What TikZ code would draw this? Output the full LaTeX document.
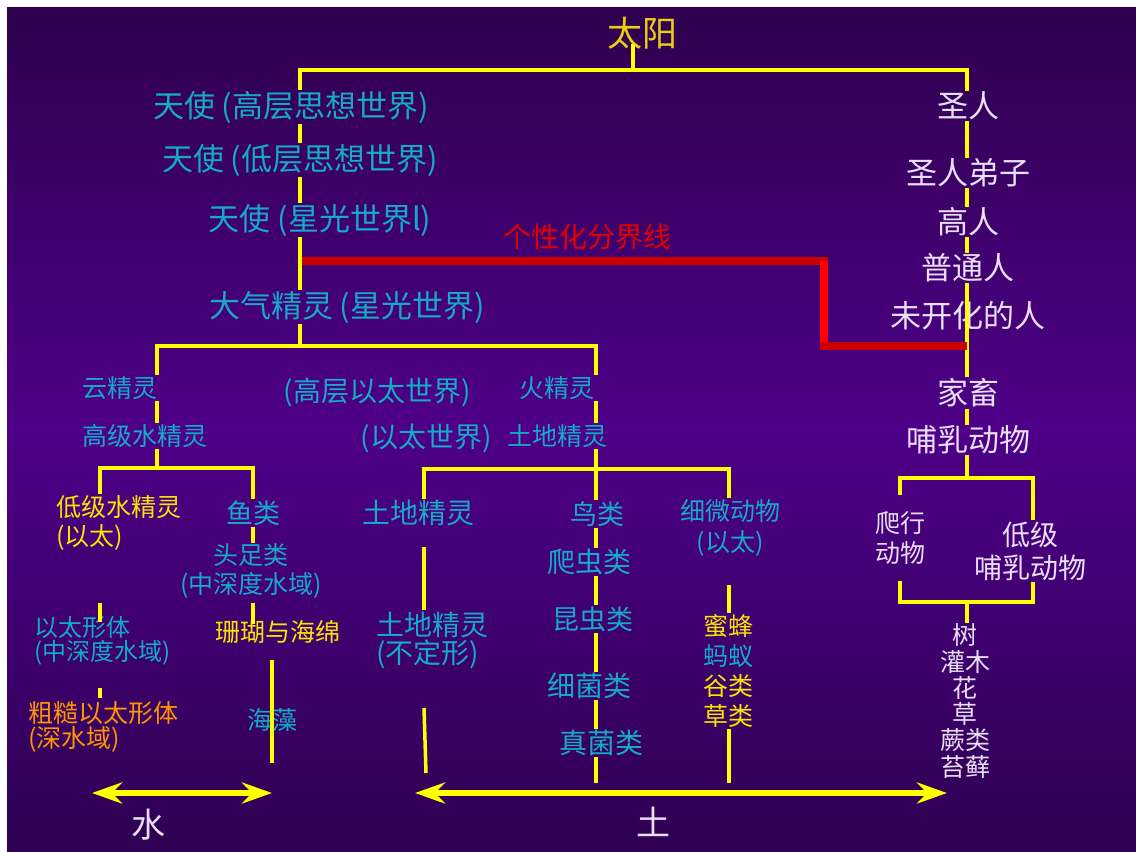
\documentclass[tikz,border=0pt]{standalone}
\usepackage{fontspec}
\newfontfamily\cjk{Noto Sans CJK SC}
\usetikzlibrary{positioning,arrows.meta,calc}
\definecolor{bgtop}{RGB}{46,0,78}
\definecolor{bgmid}{RGB}{78,0,136}
\definecolor{bgbot}{RGB}{46,0,82}
\definecolor{cyantxt}{RGB}{20,170,200}
\definecolor{lilac}{RGB}{232,222,245}
\definecolor{sungold}{RGB}{232,206,20}
\definecolor{lineyel}{RGB}{255,255,0}
\definecolor{txtyel}{RGB}{250,228,0}
\definecolor{orangetxt}{RGB}{255,150,0}
\definecolor{redline}{RGB}{204,0,0}
\definecolor{redbright}{RGB}{255,0,0}
\definecolor{redtxt}{RGB}{225,0,0}
\tikzset{
    angel/.style={font=\cjk\fontsize{31}{33}\selectfont, text=cyantxt, inner sep=1pt},
    human/.style={font=\cjk\fontsize{31}{33}\selectfont, text=lilac, inner sep=1pt, align=center},
    spirit/.style={font=\cjk\fontsize{25}{26}\selectfont, text=cyantxt, inner sep=1pt, align=center},
    creature/.style={font=\cjk\fontsize{28}{28}\selectfont, text=cyantxt, inner sep=1pt, align=center},
    realm/.style={font=\cjk\fontsize{34}{34}\selectfont, text=lilac, inner sep=1pt},
    yline/.style={draw=lineyel, line width=3.5pt},
    redbar/.style={draw=redline, line width=8pt},
    ground/.style={draw=lineyel, line width=5.5pt, {Stealth[length=30pt, width=21pt, inset=10pt]}-{Stealth[length=30pt, width=21pt, inset=10pt]}}
}
\begin{document}
\begin{tikzpicture}[x=1pt, y=-1pt]
    \useasboundingbox (0,0) rectangle (1136,852);
    \fill[white] (0,0) rectangle (1136,852);
    \shade[top color=bgtop, bottom color=bgbot, middle color=bgmid] (7,7) rectangle (1136,852);

    % upper part
    \node[font=\cjk\fontsize{35}{35}\selectfont, text=sungold, inner sep=1pt] (sun) at (642,33) {太阳};
    \node[angel] (angelhi) at (291,107) {天使 (高层思想世界)};
    \node[angel] (angello) at (300,160) {天使 (低层思想世界)};
    \node[angel] (angelastral) at (320,220) {天使 (星光世界l)};
    \node[angel] (air) at (347,307) {大气精灵 (星光世界)};
    \node[font=\cjk\fontsize{28}{28}\selectfont, text=redtxt] (divide) at (587,237) {个性化分界线};

    \node[human] (saint) at (968,106) {圣人};
    \node[human, below of=saint, node distance=67pt] (disciple) {圣人弟子};
    \node[human, below of=disciple, node distance=49pt] (adept) {高人};
    \node[human, below of=adept, node distance=46pt] (common) {普通人};
    \node[human, below of=common, node distance=48pt] (primitive) {未开化的人};
    \node[human, below of=primitive, node distance=77pt] (cattle) {家畜};
    \node[human, below of=cattle, node distance=47pt] (mammal) {哺乳动物};
    \node[human, font=\cjk\fontsize{25}{30}\selectfont, inner ysep=16pt] (reptile) at (900,538) {爬行\\动物};
    \node[human, font=\cjk\fontsize{28}{33}\selectfont] (lowmammal) at (1030,551) {低级\\哺乳动物};
    \node[human, font=\cjk\fontsize{25}{26.3}\selectfont] (plants) at (965,701) {树\\灌木\\花\\草\\蕨类\\苔藓};

    % middle part
    \node[spirit] (cloud) at (120,388) {云精灵};
    \node[spirit] (hiwater) at (145,436) {高级水精灵};
    \node[creature] (etherhi) at (377,392) {(高层以太世界)};
    \node[creature] (ether) at (426,438) {(以太世界)};
    \node[spirit] (fire) at (557,388) {火精灵};
    \node[spirit, below of=fire, node distance=48pt] (earth) {土地精灵};

    % water side
    \node[spirit, font=\cjk\fontsize{25}{29}\selectfont, text=txtyel, align=left, anchor=west] (lowwater) at (55,523) {低级水精灵\\(以太)};
    \node[spirit, font=\cjk\fontsize{27}{27}\selectfont] (fish) at (253,513) {鱼类};
    \node[spirit, font=\cjk\fontsize{25}{28.5}\selectfont] (cephalo) at (251,571) {头足类\\(中深度水域)};
    \node[spirit, font=\cjk\fontsize{24}{24}\selectfont, align=left, anchor=west] (etherform) at (33,641) {以太形体\\(中深度水域)};
    \node[spirit, font=\cjk\fontsize{25}{25}\selectfont, text=orangetxt, align=left, anchor=west] (coarse) at (27,727) {粗糙以太形体\\(深水域)};
    \node[spirit, text=txtyel] (coral) at (278,632) {珊瑚与海绵};
    \node[spirit] (seaweed) at (272,720) {海藻};

    % earth side
    \node[creature] (earthlow) at (418,513) {土地精灵};
    \node[creature, align=left, anchor=west] (formless) at (375,640) {土地精灵\\(不定形)};
    \node[creature, font=\cjk\fontsize{27}{27}\selectfont] (bird) at (597,514) {鸟类};
    \node[creature] (crawler) at (589,562) {爬虫类};
    \node[creature, font=\cjk\fontsize{27}{27}\selectfont] (insect) at (593,619) {昆虫类};
    \node[creature] (bacteria) at (589,686) {细菌类};
    \node[creature] (fungi) at (601,743) {真菌类};
    \node[spirit, font=\cjk\fontsize{25}{31}\selectfont] (micro) at (730,528) {细微动物\\(以太)};
    \node[spirit, font=\cjk\fontsize{25}{30}\selectfont, text=txtyel] (bees) at (728,671) {蜜蜂\\\textcolor{cyantxt}{蚂蚁}\\谷类\\草类};

    \node[realm] (water) at (148,825) {水};
    \node[realm] (soil) at (653,822) {土};

    % connectors
    \coordinate (topleft) at (300,70);
    \coordinate (topright) at (967,70);
    \coordinate (stem) at (633,70);
    \coordinate (split) at (300,346);
    \coordinate (midleft) at (157,346);
    \coordinate (midright) at (596,346);
    \coordinate (waterleft) at (100,468);
    \coordinate (waterright) at (253,468);
    \coordinate (earthleft) at (424,469);
    \coordinate (earthright) at (729,469);
    \coordinate (boxtop) at (967,478);
    \coordinate (boxleft) at (900,478);
    \coordinate (boxright) at (1033,478);
    \coordinate (boxbottom) at (967,602);

    \draw[yline] (stem) -- ++(0,-26);
    \draw[yline] (angelhi.north -| topleft) -- (topleft) -- (topright) -- (saint.north -| topright);
    \draw[yline] (angelhi.south -| topleft) -- (angello.north -| topleft);
    \draw[yline] (angello.south -| topleft) -- (angelastral.north -| topleft);
    \draw[yline] (angelastral.south -| topleft) -- (air.north -| topleft);
    \draw[yline] (air.south -| topleft) -- (split);

    \draw[yline] (saint.south -| topright) -- (disciple.north -| topright);
    \draw[yline] (disciple.south -| topright) -- (adept.north -| topright);
    \draw[yline] (adept.south -| topright) -- (common.north -| topright);
    \draw[yline] (common.south -| topright) -- (cattle.north -| topright);
    \draw[yline] (cattle.south -| topright) -- (mammal.north -| topright);
    \draw[yline] (mammal.south -| topright) -- (boxtop);
    \draw[yline] (reptile.north -| boxleft) -- (boxleft) -- (boxright) -- (lowmammal.north -| boxright);
    \draw[yline] (reptile.south -| boxleft) -- (boxleft |- boxbottom) -- (boxright |- boxbottom) -- (lowmammal.south -| boxright);
    \draw[yline] (boxbottom) -- (plants.north -| boxbottom);

    % personality border
    \coordinate (redstart) at (302,261);
    \coordinate (redstep) at (824,261);
    \coordinate (redlow) at (824,346);
    \coordinate (redend) at (967,346);
    \draw[redbar] (redstart) -- (828,261);
    \draw[redbar, draw=redbright] (redstep) -- (redlow);
    \draw[redbar] (820,346) -- (redend);

    \draw[yline] (cloud.north -| midleft) -- (midleft) -- (midright) -- (fire.north -| midright);
    \draw[yline] (cloud.south -| midleft) -- (hiwater.north -| midleft);
    \draw[yline] (hiwater.south -| midleft) -- (midleft |- waterleft);
    \draw[yline] (fire.south -| midright) -- (earth.north -| midright);
    \draw[yline] (earth.south -| midright) -- (midright |- earthleft) -- (bird.north -| midright);

    \draw[yline] (lowwater.north -| waterleft) -- (waterleft) -- (waterright) -- (fish.north -| waterright);
    \draw[yline] (fish.south -| waterright) -- (cephalo.north -| waterright);
    \coordinate (etherstub) at (100,603);
    \draw[yline] (etherstub) -- ++(0,19);
    \coordinate (coarsestub) at (100,688);
    \draw[yline] (coarsestub) -- ++(0,10);
    \coordinate (coralstub) at (253,603);
    \draw[yline] (coralstub) -- ++(0,21);
    \coordinate (weedtop) at (272,660);
    \coordinate (weedfoot) at (272,763);
    \draw[yline] (weedtop) -- (weedfoot);

    \draw[yline] (earthlow.north -| earthleft) -- (earthleft) -- (earthright) -- (micro.north -| earthright);
    \coordinate (formlesstop) at (424,547);
    \draw[yline] (formlesstop) -- (formlesstop |- formless.north);
    \coordinate (formlessfoot) at (424,708);
    \coordinate (earthfoot) at (426,773);
    \draw[yline] (formlessfoot) -- (earthfoot);
    \draw[yline] (bird.south -| midright) -- (crawler.north -| midright);
    \draw[yline] (crawler.south -| midright) -- (insect.north -| midright);
    \draw[yline] (insect.south -| midright) -- (bacteria.north -| midright);
    \draw[yline] (bacteria.south -| midright) -- (fungi.north -| midright);
    \coordinate (fungifoot) at (596,783);
    \draw[yline] (fungi.south -| midright) -- (fungifoot);
    \coordinate (beestop) at (729,585);
    \draw[yline] (beestop) -- (beestop |- bees.north);
    \coordinate (beesfoot) at (729,783);
    \draw[yline] (bees.south -| beestop) -- (beesfoot);

    % water and earth
    \coordinate (waterwest) at (92,793);
    \coordinate (watereast) at (272,793);
    \coordinate (soilwest) at (415,793);
    \coordinate (soileast) at (947,793);
    \draw[ground] (waterwest) -- (watereast);
    \draw[ground] (soilwest) -- (soileast);
\end{tikzpicture}
\end{document}
